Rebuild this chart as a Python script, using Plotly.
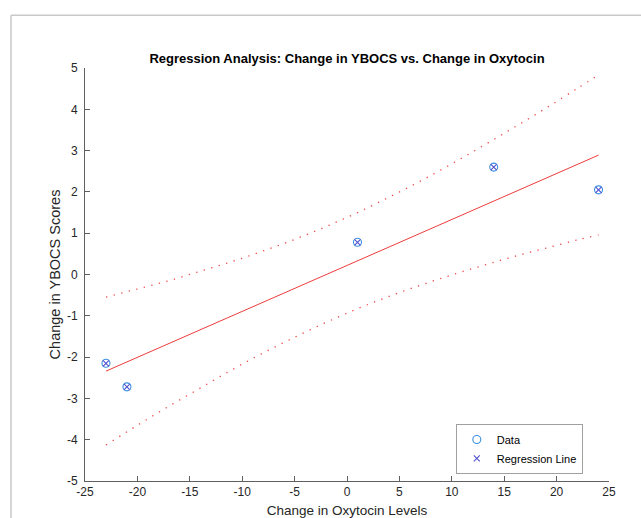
import plotly.graph_objects as go

# Data
oxytocin_change = [-23, -21, 1, 14, 24]
ybocs_change = [-2.15, -2.72, 0.78, 2.60, 2.05]

# Regression line (endpoints)
fit_x = [-23, 24]
fit_y = [-2.34, 2.89]

# Confidence bounds
ci_x = [-23, -20, -17, -14, -11, -8, -5, -2, 1, 4, 7, 10, 13, 16, 19, 22, 24]
ci_upper = [-0.55, -0.35, -0.15, 0.08, 0.31, 0.57, 0.85, 1.16, 1.50, 1.87, 2.26, 2.68,
            3.12, 3.57, 4.03, 4.51, 4.83]
ci_lower = [-4.13, -3.65, -3.19, -2.75, -2.31, -1.90, -1.52, -1.16, -0.83, -0.53, -0.26,
            -0.01, 0.22, 0.44, 0.64, 0.84, 0.96]

x_ticks = [-25, -20, -15, -10, -5, 0, 5, 10, 15, 20, 25]
y_ticks = [-5, -4, -3, -2, -1, 0, 1, 2, 3, 4, 5]

FONT = "Liberation Sans, Arial, Helvetica, sans-serif"
RED = "#ee3b3b"

fig = go.Figure()

fig.add_trace(go.Scatter(x=fit_x, y=fit_y, mode="lines",
                         line=dict(color=RED, width=1), showlegend=False, hoverinfo="skip"))
fig.add_trace(go.Scatter(x=ci_x, y=ci_upper, mode="lines", line_shape="spline",
                         line=dict(color="#f04848", width=1.3, dash="1.3px,6.5px"),
                         showlegend=False, hoverinfo="skip"))
fig.add_trace(go.Scatter(x=ci_x, y=ci_lower, mode="lines", line_shape="spline",
                         line=dict(color="#f04848", width=1.3, dash="1.3px,6.5px"),
                         showlegend=False, hoverinfo="skip"))
fig.add_trace(go.Scatter(x=oxytocin_change, y=ybocs_change, mode="markers", name="Data",
                         marker=dict(symbol="circle-open", size=8, color="#3a90e0",
                                     line=dict(width=1.1))))
fig.add_trace(go.Scatter(x=oxytocin_change, y=ybocs_change, mode="markers",
                         name="Regression Line",
                         marker=dict(symbol="x-thin-open", size=6, color="#5050d0",
                                     line=dict(width=1.1))))

axis_common = dict(
    showline=True, linecolor="#606060", linewidth=1,
    ticks="inside", ticklen=5, tickcolor="#606060", tickwidth=1,
    showgrid=False, zeroline=False, mirror=False, automargin=False,
    tickfont=dict(family=FONT, size=12, color="#262626"),
)

fig.update_xaxes(range=[-25, 25], tickvals=x_ticks, ticktext=[str(v) for v in x_ticks],
                 title=dict(text="Change in Oxytocin Levels", standoff=8,
                            font=dict(family=FONT, size=13.5, color="#262626")),
                 **axis_common)
fig.update_yaxes(range=[-5, 5], tickvals=y_ticks, ticktext=[str(v) for v in y_ticks],
                 ticklabelstandoff=4,
                 title=dict(text="Change in YBOCS Scores", standoff=2,
                            font=dict(family=FONT, size=14.5, color="#262626")),
                 **axis_common)

fig.update_layout(
    width=641, height=518,
    margin=dict(l=85, r=32, t=68, b=37, autoexpand=False),
    paper_bgcolor="white", plot_bgcolor="white",
    font=dict(family=FONT, size=12, color="#262626"),
    title=dict(text="<b>Regression Analysis: Change in YBOCS vs. Change in Oxytocin</b>",
               x=0.5, xref="paper", xanchor="center",
               y=1 - 58 / 518, yref="container", yanchor="middle",
               font=dict(family=FONT, size=13, color="black")),
    legend=dict(x=0.95, y=0.017, xanchor="right", yanchor="bottom",
                bgcolor="white", bordercolor="#a0a0a0", borderwidth=1,
                font=dict(family=FONT, size=11, color="black"),
                tracegroupgap=0, itemwidth=30),
    shapes=[
        dict(type="line", xref="paper", yref="paper",
             x0=-0.1412, x1=1.07, y0=1.128, y1=1.128,
             line=dict(color="#c8c8c8", width=1.5)),
        dict(type="line", xref="paper", yref="paper",
             x0=-0.1412, x1=-0.1412, y0=1.128, y1=-0.1,
             line=dict(color="#c8c8c8", width=1.5)),
    ],
)

fig.write_html("out.html",
               config={"displayModeBar": False},
               post_script="document.body.style.margin='0';document.body.style.overflow='hidden';")
